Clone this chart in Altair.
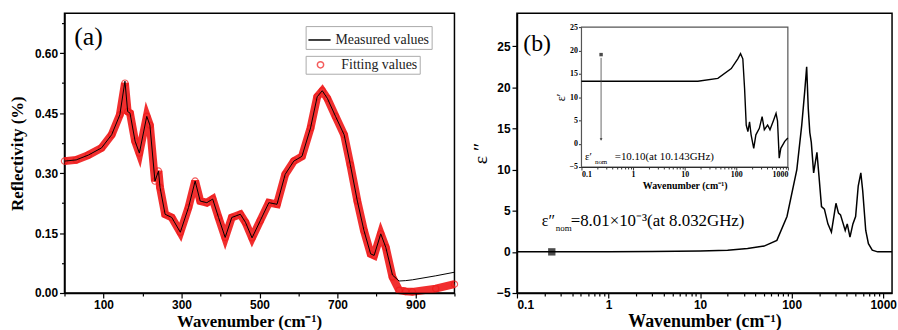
import altair as alt
import pandas as pd

# ---------------- Panel (a): reflectivity ----------------
refl_wavenumber = [0, 30, 61, 95, 121, 142, 155, 162, 168, 181, 192, 211, 219, 232, 241, 245,
                   258, 275, 297, 318, 335, 348, 365, 380, 395, 412, 429, 451, 464, 481, 502,
                   524, 545, 566, 588, 609, 631, 648, 661, 674, 695, 717, 733, 751, 768, 785,
                   794, 811, 824, 841, 858, 875, 892, 952, 1000]
refl_fitting = [0.330, 0.333, 0.345, 0.363, 0.396, 0.446, 0.525, 0.454, 0.450, 0.380, 0.350,
                0.442, 0.420, 0.280, 0.305, 0.264, 0.197, 0.189, 0.152, 0.214, 0.280, 0.230,
                0.226, 0.235, 0.189, 0.139, 0.189, 0.197, 0.177, 0.138, 0.181, 0.226, 0.222,
                0.297, 0.330, 0.342, 0.413, 0.491, 0.506, 0.487, 0.442, 0.396, 0.321, 0.230,
                0.156, 0.098, 0.094, 0.148, 0.114, 0.040, 0.007, 0.004, 0.003, 0.011, 0.022]
refl_measured = [0.330, 0.333, 0.345, 0.363, 0.396, 0.446, 0.530, 0.454, 0.450, 0.380, 0.350,
                 0.442, 0.420, 0.280, 0.305, 0.264, 0.197, 0.189, 0.152, 0.214, 0.280, 0.230,
                 0.226, 0.235, 0.189, 0.139, 0.189, 0.197, 0.177, 0.138, 0.181, 0.226, 0.222,
                 0.297, 0.330, 0.342, 0.413, 0.491, 0.506, 0.487, 0.442, 0.396, 0.321, 0.230,
                 0.156, 0.098, 0.094, 0.148, 0.114, 0.045, 0.030, 0.031, 0.033, 0.043, 0.052]
refl_tick_values = [0, 100, 200, 300, 400, 500, 600, 700, 800, 900, 1000]
legend_measured = "Measured values"
legend_fitting = "Fitting values"

# ---------------- Panel (b): eps'' main ----------------
eps2_wavenumber = [0.1, 0.3, 1, 3, 10, 20, 33, 50, 69, 89, 114, 129, 139, 146, 152, 158, 164,
                   174, 189, 199, 212, 228, 249, 272, 305, 325, 342, 385, 405, 434, 467, 500,
                   534, 570, 598, 645, 690, 760, 870, 1250]
eps2_values = [0.0, 0.0, 0.01, 0.03, 0.1, 0.2, 0.4, 0.7, 1.4, 4.3, 10.0, 15.4, 19.5, 22.5,
               17.4, 14.5, 13.3, 9.6, 12.1, 9.2, 5.5, 5.2, 3.4, 2.4, 5.9, 4.7, 4.5, 2.6, 3.4,
               1.8, 3.4, 4.3, 8.0, 9.6, 7.4, 2.6, 1.0, 0.2, 0.0, 0.0]
eps2_point_wn = [0.24]
eps2_point_val = [0.0]

# ---------------- Inset: eps' ----------------
eps1_wavenumber = [0.1, 1, 10, 18, 44, 80, 107, 121, 134, 145, 156, 168, 181, 194, 218, 240,
                   280, 317, 350, 405, 450, 531, 590, 630, 680, 730, 870, 1000]
eps1_values = [13.4, 13.4, 13.4, 13.4, 14.0, 16.1, 18.2, 19.3, 18.2, 11.8, 4.0, 2.6, 4.7, 1.9,
               -1.0, 1.9, 3.3, 5.8, 3.0, 4.0, 3.0, 5.1, 6.5, 4.9, -3.1, -1.0, 0.5, 1.2]
eps1_arrow_wn = [0.24]
eps1_arrow_top = [18.4]
eps1_arrow_bottom = [0.9]
eps1_star_val = [19.1]

SERIF = "Liberation Serif"
SANS = "Liberation Sans"
RED = "#f01818"

# ===================== Panel (a) =====================
df_a = pd.DataFrame({"wn": refl_wavenumber, "fit": refl_fitting, "meas": refl_measured,
                     "lm": legend_measured, "lf": legend_fitting})

xa_scale = alt.Scale(domain=[0, 1000], nice=False)
xa_axis = alt.Axis(title="Wavenumber (cm\u207b\u00b9)", values=refl_tick_values, format="d",
                   labelExpr="datum.value % 200 == 100 ? datum.label : ''",
                   tickSize={"condition": {"test": "datum.value % 200 == 100", "value": 5}, "value": 3},
                   titlePadding=3, titleX=186, zindex=2, labelOverlap=False)
ya_axis = alt.Axis(title="Reflectivity (%)", format=".2f",
                   values=[i * 0.075 for i in range(0, 10)],
                   labelExpr="round(datum.value*1000) % 150 == 0 ? datum.label : ''",
                   labelOverlap=False,
                   tickSize={"condition": {"test": "round(datum.value*1000) % 150 == 0", "value": 5}, "value": 3},
                   titlePadding=8)
ya_scale = alt.Scale(domain=[0, 0.70], nice=False)

band = alt.Chart(df_a).mark_line(color=RED, strokeWidth=8, opacity=0.9).encode(
    x=alt.X("wn:Q", scale=xa_scale, axis=xa_axis), y=alt.Y("fit:Q", scale=ya_scale, axis=ya_axis))
pts = alt.Chart(df_a).mark_point(filled=False, size=40, strokeWidth=1.2, color=RED).encode(
    x=alt.X("wn:Q", scale=xa_scale, axis=xa_axis), y=alt.Y("fit:Q", scale=ya_scale, axis=ya_axis),
    shape=alt.Shape("lf:N", scale=alt.Scale(domain=[legend_fitting], range=["circle"]),
                    legend=alt.Legend(title=None, orient="none", legendX=243, legendY=43,
                                      strokeColor="#aaaaaa", padding=2, labelFont=SERIF,
                                      labelFontSize=14, symbolStrokeColor=RED,
                                      symbolFillColor="transparent", symbolSize=40,
                                      labelOffset=14, symbolOffset=6)))
meas = alt.Chart(df_a).mark_line(strokeWidth=1).encode(
    x=alt.X("wn:Q", scale=xa_scale, axis=xa_axis), y=alt.Y("meas:Q", scale=ya_scale, axis=ya_axis),
    color=alt.Color("lm:N", scale=alt.Scale(domain=[legend_measured], range=["black"]),
                    legend=alt.Legend(title=None, orient="none", legendX=243, legendY=13,
                                      strokeColor="#aaaaaa", padding=2, labelFont=SERIF,
                                      labelFontSize=14, symbolType="stroke", symbolStrokeWidth=1.5,
                                      symbolSize=500, labelOffset=4)))
lab_a = alt.Chart(pd.DataFrame({"wn": [25], "fit": [0.64], "t": ["(a)"]})).mark_text(
    font=SERIF, fontSize=26, align="left", baseline="middle").encode(
    x=alt.X("wn:Q", scale=xa_scale, axis=xa_axis), y=alt.Y("fit:Q", scale=ya_scale, axis=ya_axis), text="t:N")

panel_a = alt.layer(band, pts, meas, lab_a).properties(width=393, height=282)

# ===================== Panel (b) =====================
df_b = pd.DataFrame({"wn": eps2_wavenumber, "v": eps2_values})
log_vals = [m * 10 ** e for e in range(-1, 3) for m in range(1, 10)] + [1000]
is_dec = "abs(log(datum.value)/LN10 - round(log(datum.value)/LN10)) < 1e-6"
xb = alt.X("wn:Q", scale=alt.Scale(type="log", domain=[0.1, 1250], nice=False),
           axis=alt.Axis(title="Wavenumber (cm\u207b\u00b9)", values=log_vals, format="~g",
                         labelExpr=is_dec + " ? datum.label : ''", labelOverlap=False,
                         tickSize={"condition": {"test": is_dec, "value": 5}, "value": 3},
                         titleFontSize=18, titlePadding=2))
yb_scale = alt.Scale(domain=[-5, 29], nice=False)
yb_axis = alt.Axis(title="\u03b5 \u2033", values=[i * 2.5 for i in range(-2, 12)],
                   labelExpr="datum.value % 5 == 0 ? datum.label : ''", labelOverlap=False,
                   tickSize={"condition": {"test": "datum.value % 5 == 0", "value": 5}, "value": 3},
                   titleFontSize=20, titleFontWeight="normal", titlePadding=6)

main_line = alt.Chart(df_b).mark_line(color="black", strokeWidth=1.5).encode(
    x=xb, y=alt.Y("v:Q", scale=yb_scale, axis=yb_axis))
main_pt = alt.Chart(pd.DataFrame({"wn": eps2_point_wn, "v": eps2_point_val})).mark_point(
    shape="square", filled=True, size=55, color="black").encode(x="wn:Q", y="v:Q")
ann = pd.DataFrame({"wn": [0.187], "v": [3.7]})
t1 = alt.Chart(ann).mark_text(font=SERIF, fontSize=16, align="left", baseline="middle").encode(
    x="wn:Q", y="v:Q", text=alt.value("\u03b5\u2033"))
t2 = alt.Chart(ann).mark_text(font=SERIF, fontSize=9, align="left", baseline="middle", dx=14, dy=7).encode(
    x="wn:Q", y="v:Q", text=alt.value("nom"))
t3 = alt.Chart(ann).mark_text(font=SERIF, fontSize=17, align="left", baseline="middle", dx=29).encode(
    x="wn:Q", y="v:Q", text=alt.value("=8.01\u00d710\u207b\u00b3(at 8.032GHz)"))
lab_b = alt.Chart(pd.DataFrame({"wn": [0.117], "v": [25.3]})).mark_text(
    font=SERIF, fontSize=24, align="left", baseline="middle").encode(x="wn:Q", y="v:Q", text=alt.value("(b)"))
main_layer = alt.layer(main_line, main_pt, t1, t2, t3, lab_b)

# inset (independent scales, placed by pixel ranges inside panel b)
df_i = pd.DataFrame({"wn": eps1_wavenumber, "v": eps1_values})
xi_scale = alt.Scale(type="log", domain=[0.1, 1000], nice=False, range=[65, 273])
yi_scale = alt.Scale(domain=[-5, 25], nice=False, range=[155, 14])
xi_axis = alt.Axis(orient="bottom", offset=-127, title="Wavenumber (cm\u207b\u00b9)",
                   values=log_vals, format="~g",
                   labelExpr=is_dec + " ? datum.label : ''", labelOverlap=False,
                   tickSize={"condition": {"test": is_dec, "value": 3}, "value": 2},
                   labelFont=SERIF, labelFontSize=8, titleFontSize=10, titlePadding=2,
                   labelPadding=1, domainWidth=1, tickWidth=0.8)
yi_axis = alt.Axis(orient="left", offset=-65, title="\u03b5\u2032", values=list(range(-5, 26, 5)),
                   tickSize=3, labelFont=SERIF, labelFontSize=8, titleFontSize=12,
                   titleFontWeight="normal", titlePadding=2, labelPadding=1,
                   domainWidth=1, tickWidth=0.8)
frame = alt.Chart(pd.DataFrame({"x0": [0.1], "x1": [1000], "y0": [-5], "y1": [25]})).mark_rect(
    fill="white", stroke="#555555", strokeWidth=1.2).encode(
    x=alt.X("x0:Q", scale=xi_scale, axis=xi_axis), x2="x1:Q",
    y=alt.Y("y0:Q", scale=yi_scale, axis=yi_axis), y2="y1:Q")
ins_line = alt.Chart(df_i).mark_line(color="black", strokeWidth=1.4).encode(x="wn:Q", y="v:Q")
arrow_df = pd.DataFrame({"wn": eps1_arrow_wn, "top": eps1_arrow_top, "bot": eps1_arrow_bottom,
                         "star": eps1_star_val})
ins_rule = alt.Chart(arrow_df).mark_rule(color="#444444", strokeWidth=0.8).encode(
    x="wn:Q", y="top:Q", y2="bot:Q")
ins_star = alt.Chart(arrow_df).mark_point(shape="square", filled=True, size=12, color="black").encode(
    x="wn:Q", y="star:Q")
ins_head = alt.Chart(arrow_df).mark_point(shape="triangle-down", filled=True, size=8, color="black").encode(
    x="wn:Q", y="bot:Q")
iann = pd.DataFrame({"wn": [0.117], "v": [-2.8]})
it1 = alt.Chart(iann).mark_text(font=SERIF, fontSize=11, align="left", baseline="middle").encode(
    x="wn:Q", y="v:Q", text=alt.value("\u03b5\u2032"))
it2 = alt.Chart(iann).mark_text(font=SERIF, fontSize=7, align="left", baseline="middle", dx=10, dy=5).encode(
    x="wn:Q", y="v:Q", text=alt.value("nom"))
it3 = alt.Chart(iann).mark_text(font=SERIF, fontSize=11, align="left", baseline="middle", dx=30).encode(
    x="wn:Q", y="v:Q", text=alt.value("=10.10(at 10.143GHz)"))
inset_layer = alt.layer(frame, ins_line, ins_rule, ins_star, ins_head, it1, it2, it3)

panel_b = alt.layer(main_layer, inset_layer).resolve_scale(x="independent", y="independent").properties(
    width=378, height=282)

chart = alt.hconcat(panel_a, panel_b, spacing=63, bounds="flush").properties(
    padding={"left": 7, "top": 11, "right": 0, "bottom": 0}
).configure_view(stroke="black", strokeWidth=1.5).configure_axis(
    grid=False, domainColor="black", tickColor="black", labelColor="black", titleColor="black",
    labelFont=SANS, labelFontWeight="bold", labelFontSize=12, titleFont=SERIF,
    titleFontWeight="bold", titleFontSize=17, domainWidth=1.5, tickWidth=1.2, labelPadding=2
).configure_legend(labelColor="#222222")

chart.save("out.html", embed_options={"renderer": "svg", "actions": False})
